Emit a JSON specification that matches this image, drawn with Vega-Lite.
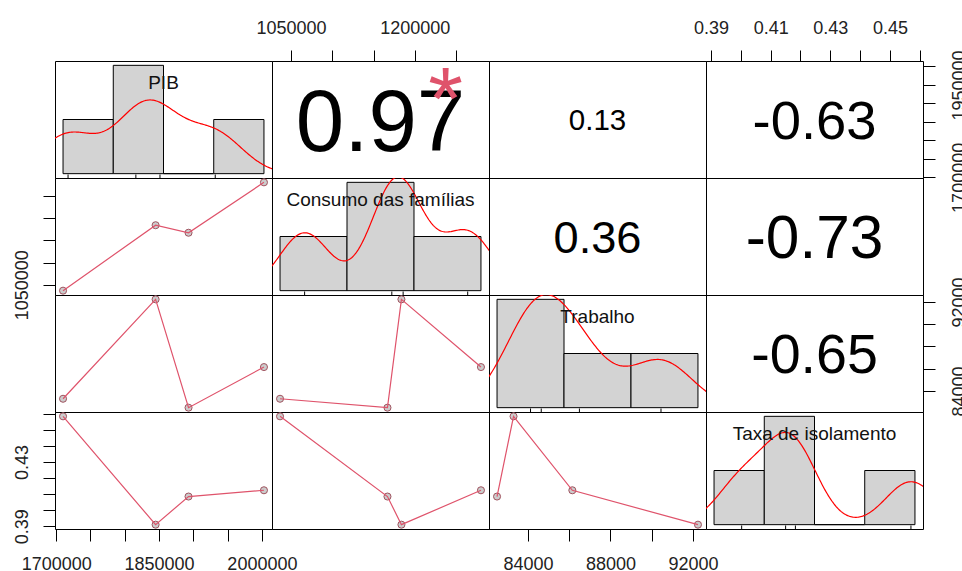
{
  "$schema": "https://vega.github.io/schema/vega-lite/v6.json",
  "padding": {"left": 12, "top": 18, "right": 0, "bottom": 0},
  "background": "white",
  "datasets": {
    "obs": [
      {"id": "a", "PIB": 1710000, "Consumo": 1036700, "Trabalho": 83300, "Taxa": 0.4584},
      {"id": "b", "PIB": 1845000, "Consumo": 1183800, "Trabalho": 92240, "Taxa": 0.391},
      {"id": "c", "PIB": 1893000, "Consumo": 1166900, "Trabalho": 82500, "Taxa": 0.4085},
      {"id": "d", "PIB": 2003000, "Consumo": 1280200, "Trabalho": 86150, "Taxa": 0.4124}
    ],
    "hist": [
      {"var": "PIB", "x0": 1700000, "x1": 1800000, "dens": 2.5e-6},
      {"var": "PIB", "x0": 1800000, "x1": 1900000, "dens": 5e-6},
      {"var": "PIB", "x0": 1900000, "x1": 2000000, "dens": 0},
      {"var": "PIB", "x0": 2000000, "x1": 2100000, "dens": 2.5e-6},
      {"var": "Consumo", "x0": 1000000, "x1": 1100000, "dens": 2.5e-6},
      {"var": "Consumo", "x0": 1100000, "x1": 1200000, "dens": 5e-6},
      {"var": "Consumo", "x0": 1200000, "x1": 1300000, "dens": 2.5e-6},
      {"var": "Trabalho", "x0": 80000, "x1": 85000, "dens": 1e-4},
      {"var": "Trabalho", "x0": 85000, "x1": 90000, "dens": 5e-5},
      {"var": "Trabalho", "x0": 90000, "x1": 95000, "dens": 5e-5},
      {"var": "Taxa", "x0": 0.38, "x1": 0.40, "dens": 12.5},
      {"var": "Taxa", "x0": 0.40, "x1": 0.42, "dens": 25},
      {"var": "Taxa", "x0": 0.42, "x1": 0.44, "dens": 0},
      {"var": "Taxa", "x0": 0.44, "x1": 0.46, "dens": 12.5}
    ]
  },
  "config": {
    "view": {"stroke": "#000", "strokeWidth": 1},
    "axis": {"labelFont": "Liberation Sans", "labelFontSize": 18, "labelColor": "#222", "tickColor": "#000", "tickWidth": 1, "domain": false, "grid": false, "labelFlush": false, "labelOverlap": false, "labelBound": false},
    "text": {"font": "Liberation Sans"}
  },
  "columns": 4,
  "spacing": 0,
  "bounds": "flush",
  "concat": [
    {
      "width": 217, "height": 117,
      "layer": [
        {"data": {"name": "hist"}, "transform": [{"filter": "datum.var == 'PIB'"}],
         "mark": {"type": "rect", "fill": "#d3d3d3", "stroke": "#000", "strokeWidth": 1},
         "encoding": {
           "x": {"field": "x0", "type": "quantitative", "scale": {"domain": [1684000, 2116000], "nice": false, "zero": false}, "axis": null},
           "x2": {"field": "x1"},
           "y": {"field": "dens", "type": "quantitative", "scale": {"domain": [-2e-7, 5.2e-6], "nice": false, "zero": false}, "axis": null},
           "y2": {"datum": 0}}},
        {"data": {"name": "obs"}, "transform": [{"density": "PIB", "bandwidth": 55609, "extent": [1543173, 2169827], "steps": 300, "as": ["v", "d"]}],
         "mark": {"type": "line", "color": "#ff0000", "strokeWidth": 1.2, "clip": true},
         "encoding": {
           "x": {"field": "v", "type": "quantitative", "scale": {"domain": [1684000, 2116000], "nice": false, "zero": false}, "axis": null},
           "y": {"field": "d", "type": "quantitative", "scale": {"domain": [-2e-7, 5.2e-6], "nice": false, "zero": false}, "axis": null}}},
        {"data": {"name": "obs"}, "mark": {"type": "rule", "color": "#000", "strokeWidth": 1},
         "encoding": {
           "x": {"field": "PIB", "type": "quantitative", "scale": {"domain": [1684000, 2116000], "nice": false, "zero": false}, "axis": null},
           "y": {"datum": -2e-7, "type": "quantitative", "scale": {"domain": [-2e-7, 5.2e-6], "nice": false, "zero": false}, "axis": null},
           "y2": {"datum": -3.8e-8}}},
        {"data": {"values": [{"name": "PIB"}]}, "mark": {"type": "text", "fontSize": 19, "color": "#111", "baseline": "alphabetic", "align": "center", "dy": 8},
         "encoding": {
           "x": {"datum": 1900000, "type": "quantitative", "scale": {"domain": [1684000, 2116000], "nice": false, "zero": false}, "axis": null},
           "y": {"datum": 4.3e-6, "type": "quantitative", "scale": {"domain": [-2e-7, 5.2e-6], "nice": false, "zero": false}, "axis": null},
           "text": {"field": "name"}}}
      ]
    },
    {
      "width": 217, "height": 117,
      "layer": [
        {"data": {"values": [{"txt": "0.97"}]}, "mark": {"type": "text", "fontSize": 87, "color": "#000", "baseline": "alphabetic", "align": "center", "dy": 31},
         "encoding": {
           "x": {"datum": 1158450, "type": "quantitative", "scale": {"domain": [1026960, 1289940], "nice": false, "zero": false},
                 "axis": {"orient": "top", "title": null, "values": [1050000, 1100000, 1150000, 1200000, 1250000], "labelExpr": "indexof([1050000, 1200000], datum.value) >= 0 ? format(datum.value, 'd') : ''", "tickSize": 11, "labelPadding": 17, "labelBaseline": "alphabetic", "labelAlign": "center", "labelAngle": 0}},
           "y": {"datum": 1856500, "type": "quantitative", "scale": {"domain": [1698280, 2014720], "nice": false, "zero": false}, "axis": null},
           "text": {"field": "txt"}}},
        {"data": {"values": [{"s": "*"}]}, "mark": {"type": "text", "fontSize": 89, "color": "#DF536B", "baseline": "alphabetic", "align": "center", "dy": 45},
         "encoding": {
           "x": {"datum": 1237344, "type": "quantitative", "scale": {"domain": [1026960, 1289940], "nice": false, "zero": false},
                 "axis": {"orient": "top", "title": null, "values": [1050000, 1100000, 1150000, 1200000, 1250000], "labelExpr": "indexof([1050000, 1200000], datum.value) >= 0 ? format(datum.value, 'd') : ''", "tickSize": 11, "labelPadding": 17, "labelBaseline": "alphabetic", "labelAlign": "center", "labelAngle": 0}},
           "y": {"datum": 1951432, "type": "quantitative", "scale": {"domain": [1698280, 2014720], "nice": false, "zero": false}, "axis": null},
           "text": {"field": "s"}}}
      ]
    },
    {
      "width": 217, "height": 117,
      "data": {"values": [{"txt": "0.13"}]},
      "mark": {"type": "text", "fontSize": 29.5, "color": "#000", "baseline": "alphabetic", "align": "center", "dy": 10.6},
      "encoding": {
        "x": {"datum": 87370, "type": "quantitative", "scale": {"domain": [82110.4, 92629.6], "nice": false, "zero": false}, "axis": null},
        "y": {"datum": 1856500, "type": "quantitative", "scale": {"domain": [1698280, 2014720], "nice": false, "zero": false}, "axis": null},
        "text": {"field": "txt"}}
    },
    {
      "width": 217, "height": 117,
      "data": {"values": [{"txt": "-0.63"}]},
      "mark": {"type": "text", "fontSize": 54.4, "color": "#000", "baseline": "alphabetic", "align": "center", "dy": 19.5},
      "encoding": {
        "x": {"datum": 0.4247, "type": "quantitative", "scale": {"domain": [0.388304, 0.461096], "nice": false, "zero": false},
              "axis": {"orient": "top", "title": null, "values": [0.39, 0.4, 0.41, 0.42, 0.43, 0.44, 0.45, 0.46], "labelExpr": "indexof([0.39, 0.41, 0.43, 0.45], datum.value) >= 0 ? format(datum.value, '.2f') : ''", "tickSize": 11, "labelPadding": 17, "labelBaseline": "alphabetic", "labelAlign": "center", "labelAngle": 0}},
        "y": {"datum": 1856500, "type": "quantitative", "scale": {"domain": [1698280, 2014720], "nice": false, "zero": false},
              "axis": {"orient": "right", "title": null, "values": [1700000, 1750000, 1800000, 1850000, 1900000, 1950000, 2000000], "labelExpr": "indexof([1700000, 1950000], datum.value) >= 0 ? format(datum.value, 'd') : ''", "tickSize": 12, "labelPadding": 29, "labelAngle": 270, "labelAlign": "center", "labelBaseline": "alphabetic"}},
        "text": {"field": "txt"}}
    },
    {
      "width": 217, "height": 117,
      "data": {"name": "obs"},
      "encoding": {
        "x": {"field": "PIB", "type": "quantitative", "scale": {"domain": [1698280, 2014720], "nice": false, "zero": false}, "axis": null},
        "y": {"field": "Consumo", "type": "quantitative", "scale": {"domain": [1026960, 1289940], "nice": false, "zero": false},
              "axis": {"orient": "left", "title": null, "values": [1050000, 1100000, 1150000, 1200000, 1250000], "labelExpr": "indexof([1050000], datum.value) >= 0 ? format(datum.value, 'd') : ''", "tickSize": 12, "labelPadding": 16, "labelAngle": 270, "labelAlign": "center", "labelBaseline": "alphabetic"}}},
      "layer": [
        {"mark": {"type": "circle", "size": 50, "fill": "#cccccc", "fillOpacity": 1, "stroke": "#a0525e", "strokeWidth": 1}},
        {"mark": {"type": "line", "color": "#DF536B", "strokeWidth": 1.2}}
      ]
    },
    {
      "width": 217, "height": 117,
      "layer": [
        {"data": {"name": "hist"}, "transform": [{"filter": "datum.var == 'Consumo'"}],
         "mark": {"type": "rect", "fill": "#d3d3d3", "stroke": "#000", "strokeWidth": 1},
         "encoding": {
           "x": {"field": "x0", "type": "quantitative", "scale": {"domain": [988000, 1312000], "nice": false, "zero": false}, "axis": null},
           "x2": {"field": "x1"},
           "y": {"field": "dens", "type": "quantitative", "scale": {"domain": [-2e-7, 5.2e-6], "nice": false, "zero": false}, "axis": null},
           "y2": {"datum": 0}}},
        {"data": {"name": "obs"}, "transform": [{"density": "Consumo", "bandwidth": 37437, "extent": [924389, 1392511], "steps": 300, "as": ["v", "d"]}],
         "mark": {"type": "line", "color": "#ff0000", "strokeWidth": 1.2, "clip": true},
         "encoding": {
           "x": {"field": "v", "type": "quantitative", "scale": {"domain": [988000, 1312000], "nice": false, "zero": false}, "axis": null},
           "y": {"field": "d", "type": "quantitative", "scale": {"domain": [-2e-7, 5.2e-6], "nice": false, "zero": false}, "axis": null}}},
        {"data": {"name": "obs"}, "mark": {"type": "rule", "color": "#000", "strokeWidth": 1},
         "encoding": {
           "x": {"field": "Consumo", "type": "quantitative", "scale": {"domain": [988000, 1312000], "nice": false, "zero": false}, "axis": null},
           "y": {"datum": -2e-7, "type": "quantitative", "scale": {"domain": [-2e-7, 5.2e-6], "nice": false, "zero": false}, "axis": null},
           "y2": {"datum": -3.8e-8}}},
        {"data": {"values": [{"name": "Consumo das famílias"}]}, "mark": {"type": "text", "fontSize": 19, "color": "#111", "baseline": "alphabetic", "align": "center", "dy": 8},
         "encoding": {
           "x": {"datum": 1150000, "type": "quantitative", "scale": {"domain": [988000, 1312000], "nice": false, "zero": false}, "axis": null},
           "y": {"datum": 4.3e-6, "type": "quantitative", "scale": {"domain": [-2e-7, 5.2e-6], "nice": false, "zero": false}, "axis": null},
           "text": {"field": "name"}}}
      ]
    },
    {
      "width": 217, "height": 117,
      "data": {"values": [{"txt": "0.36"}]},
      "mark": {"type": "text", "fontSize": 45.2, "color": "#000", "baseline": "alphabetic", "align": "center", "dy": 16.2},
      "encoding": {
        "x": {"datum": 87370, "type": "quantitative", "scale": {"domain": [82110.4, 92629.6], "nice": false, "zero": false}, "axis": null},
        "y": {"datum": 1158450, "type": "quantitative", "scale": {"domain": [1026960, 1289940], "nice": false, "zero": false}, "axis": null},
        "text": {"field": "txt"}}
    },
    {
      "width": 217, "height": 117,
      "data": {"values": [{"txt": "-0.73"}]},
      "mark": {"type": "text", "fontSize": 60.3, "color": "#000", "baseline": "alphabetic", "align": "center", "dy": 21.6},
      "encoding": {
        "x": {"datum": 0.4247, "type": "quantitative", "scale": {"domain": [0.388304, 0.461096], "nice": false, "zero": false}, "axis": null},
        "y": {"datum": 1158450, "type": "quantitative", "scale": {"domain": [1026960, 1289940], "nice": false, "zero": false}, "axis": null},
        "text": {"field": "txt"}}
    },
    {
      "width": 217, "height": 117,
      "data": {"name": "obs"},
      "encoding": {
        "x": {"field": "PIB", "type": "quantitative", "scale": {"domain": [1698280, 2014720], "nice": false, "zero": false}, "axis": null},
        "y": {"field": "Trabalho", "type": "quantitative", "scale": {"domain": [82110.4, 92629.6], "nice": false, "zero": false}, "axis": null}},
      "layer": [
        {"mark": {"type": "circle", "size": 50, "fill": "#cccccc", "fillOpacity": 1, "stroke": "#a0525e", "strokeWidth": 1}},
        {"mark": {"type": "line", "color": "#DF536B", "strokeWidth": 1.2}}
      ]
    },
    {
      "width": 217, "height": 117,
      "data": {"name": "obs"},
      "encoding": {
        "x": {"field": "Consumo", "type": "quantitative", "scale": {"domain": [1026960, 1289940], "nice": false, "zero": false}, "axis": null},
        "y": {"field": "Trabalho", "type": "quantitative", "scale": {"domain": [82110.4, 92629.6], "nice": false, "zero": false}, "axis": null}},
      "layer": [
        {"mark": {"type": "circle", "size": 50, "fill": "#cccccc", "fillOpacity": 1, "stroke": "#a0525e", "strokeWidth": 1}},
        {"mark": {"type": "line", "color": "#DF536B", "strokeWidth": 1.2}}
      ]
    },
    {
      "width": 217, "height": 117,
      "layer": [
        {"data": {"name": "hist"}, "transform": [{"filter": "datum.var == 'Trabalho'"}],
         "mark": {"type": "rect", "fill": "#d3d3d3", "stroke": "#000", "strokeWidth": 1},
         "encoding": {
           "x": {"field": "x0", "type": "quantitative", "scale": {"domain": [79400, 95600], "nice": false, "zero": false}, "axis": null},
           "x2": {"field": "x1"},
           "y": {"field": "dens", "type": "quantitative", "scale": {"domain": [-4e-6, 1.04e-4], "nice": false, "zero": false}, "axis": null},
           "y2": {"datum": 0}}},
        {"data": {"name": "obs"}, "transform": [{"density": "Trabalho", "bandwidth": 2327.4, "extent": [75518, 99222], "steps": 300, "as": ["v", "d"]}],
         "mark": {"type": "line", "color": "#ff0000", "strokeWidth": 1.2, "clip": true},
         "encoding": {
           "x": {"field": "v", "type": "quantitative", "scale": {"domain": [79400, 95600], "nice": false, "zero": false}, "axis": null},
           "y": {"field": "d", "type": "quantitative", "scale": {"domain": [-4e-6, 1.04e-4], "nice": false, "zero": false}, "axis": null}}},
        {"data": {"name": "obs"}, "mark": {"type": "rule", "color": "#000", "strokeWidth": 1},
         "encoding": {
           "x": {"field": "Trabalho", "type": "quantitative", "scale": {"domain": [79400, 95600], "nice": false, "zero": false}, "axis": null},
           "y": {"datum": -4e-6, "type": "quantitative", "scale": {"domain": [-4e-6, 1.04e-4], "nice": false, "zero": false}, "axis": null},
           "y2": {"datum": -7.6e-7}}},
        {"data": {"values": [{"name": "Trabalho"}]}, "mark": {"type": "text", "fontSize": 19, "color": "#111", "baseline": "alphabetic", "align": "center", "dy": 8},
         "encoding": {
           "x": {"datum": 87500, "type": "quantitative", "scale": {"domain": [79400, 95600], "nice": false, "zero": false}, "axis": null},
           "y": {"datum": 8.6e-5, "type": "quantitative", "scale": {"domain": [-4e-6, 1.04e-4], "nice": false, "zero": false}, "axis": null},
           "text": {"field": "name"}}}
      ]
    },
    {
      "width": 217, "height": 117,
      "data": {"values": [{"txt": "-0.65"}]},
      "mark": {"type": "text", "fontSize": 55.6, "color": "#000", "baseline": "alphabetic", "align": "center", "dy": 19.9},
      "encoding": {
        "x": {"datum": 0.4247, "type": "quantitative", "scale": {"domain": [0.388304, 0.461096], "nice": false, "zero": false}, "axis": null},
        "y": {"datum": 87370, "type": "quantitative", "scale": {"domain": [82110.4, 92629.6], "nice": false, "zero": false},
              "axis": {"orient": "right", "title": null, "values": [84000, 86000, 88000, 90000, 92000], "labelExpr": "indexof([84000, 92000], datum.value) >= 0 ? format(datum.value, 'd') : ''", "tickSize": 12, "labelPadding": 29, "labelAngle": 270, "labelAlign": "center", "labelBaseline": "alphabetic"}},
        "text": {"field": "txt"}}
    },
    {
      "width": 217, "height": 117,
      "data": {"name": "obs"},
      "encoding": {
        "x": {"field": "PIB", "type": "quantitative", "scale": {"domain": [1698280, 2014720], "nice": false, "zero": false},
              "axis": {"orient": "bottom", "title": null, "values": [1700000, 1750000, 1800000, 1850000, 1900000, 1950000, 2000000], "labelExpr": "indexof([1700000, 1850000, 2000000], datum.value) >= 0 ? format(datum.value, 'd') : ''", "tickSize": 12, "labelPadding": 28, "labelBaseline": "alphabetic", "labelAlign": "center", "labelAngle": 0}},
        "y": {"field": "Taxa", "type": "quantitative", "scale": {"domain": [0.388304, 0.461096], "nice": false, "zero": false},
              "axis": {"orient": "left", "title": null, "values": [0.39, 0.4, 0.41, 0.42, 0.43, 0.44, 0.45, 0.46], "labelExpr": "indexof([0.39, 0.43], datum.value) >= 0 ? format(datum.value, '.2f') : ''", "tickSize": 12, "labelPadding": 16, "labelAngle": 270, "labelAlign": "center", "labelBaseline": "alphabetic"}}},
      "layer": [
        {"mark": {"type": "circle", "size": 50, "fill": "#cccccc", "fillOpacity": 1, "stroke": "#a0525e", "strokeWidth": 1}},
        {"mark": {"type": "line", "color": "#DF536B", "strokeWidth": 1.2}}
      ]
    },
    {
      "width": 217, "height": 117,
      "data": {"name": "obs"},
      "encoding": {
        "x": {"field": "Consumo", "type": "quantitative", "scale": {"domain": [1026960, 1289940], "nice": false, "zero": false}, "axis": null},
        "y": {"field": "Taxa", "type": "quantitative", "scale": {"domain": [0.388304, 0.461096], "nice": false, "zero": false}, "axis": null}},
      "layer": [
        {"mark": {"type": "circle", "size": 50, "fill": "#cccccc", "fillOpacity": 1, "stroke": "#a0525e", "strokeWidth": 1}},
        {"mark": {"type": "line", "color": "#DF536B", "strokeWidth": 1.2}}
      ]
    },
    {
      "width": 217, "height": 117,
      "data": {"name": "obs"},
      "encoding": {
        "x": {"field": "Trabalho", "type": "quantitative", "scale": {"domain": [82110.4, 92629.6], "nice": false, "zero": false},
              "axis": {"orient": "bottom", "title": null, "values": [84000, 86000, 88000, 90000, 92000], "labelExpr": "indexof([84000, 88000, 92000], datum.value) >= 0 ? format(datum.value, 'd') : ''", "tickSize": 12, "labelPadding": 28, "labelBaseline": "alphabetic", "labelAlign": "center", "labelAngle": 0}},
        "y": {"field": "Taxa", "type": "quantitative", "scale": {"domain": [0.388304, 0.461096], "nice": false, "zero": false}, "axis": null}},
      "layer": [
        {"mark": {"type": "circle", "size": 50, "fill": "#cccccc", "fillOpacity": 1, "stroke": "#a0525e", "strokeWidth": 1}},
        {"mark": {"type": "line", "color": "#DF536B", "strokeWidth": 1.2}}
      ]
    },
    {
      "width": 217, "height": 117,
      "layer": [
        {"data": {"name": "hist"}, "transform": [{"filter": "datum.var == 'Taxa'"}],
         "mark": {"type": "rect", "fill": "#d3d3d3", "stroke": "#000", "strokeWidth": 1},
         "encoding": {
           "x": {"field": "x0", "type": "quantitative", "scale": {"domain": [0.3768, 0.4632], "nice": false, "zero": false}, "axis": null},
           "x2": {"field": "x1"},
           "y": {"field": "dens", "type": "quantitative", "scale": {"domain": [-1, 26], "nice": false, "zero": false}, "axis": null},
           "y2": {"datum": 0}}},
        {"data": {"name": "obs"}, "transform": [{"density": "Taxa", "bandwidth": 0.010066, "extent": [0.3608, 0.4886], "steps": 300, "as": ["v", "d"]}],
         "mark": {"type": "line", "color": "#ff0000", "strokeWidth": 1.2, "clip": true},
         "encoding": {
           "x": {"field": "v", "type": "quantitative", "scale": {"domain": [0.3768, 0.4632], "nice": false, "zero": false}, "axis": null},
           "y": {"field": "d", "type": "quantitative", "scale": {"domain": [-1, 26], "nice": false, "zero": false}, "axis": null}}},
        {"data": {"name": "obs"}, "mark": {"type": "rule", "color": "#000", "strokeWidth": 1},
         "encoding": {
           "x": {"field": "Taxa", "type": "quantitative", "scale": {"domain": [0.3768, 0.4632], "nice": false, "zero": false}, "axis": null},
           "y": {"datum": -1, "type": "quantitative", "scale": {"domain": [-1, 26], "nice": false, "zero": false}, "axis": null},
           "y2": {"datum": -0.19}}},
        {"data": {"values": [{"name": "Taxa de isolamento"}]}, "mark": {"type": "text", "fontSize": 19, "color": "#111", "baseline": "alphabetic", "align": "center", "dy": 8},
         "encoding": {
           "x": {"datum": 0.42, "type": "quantitative", "scale": {"domain": [0.3768, 0.4632], "nice": false, "zero": false}, "axis": null},
           "y": {"datum": 21.5, "type": "quantitative", "scale": {"domain": [-1, 26], "nice": false, "zero": false}, "axis": null},
           "text": {"field": "name"}}}
      ]
    }
  ]
}
